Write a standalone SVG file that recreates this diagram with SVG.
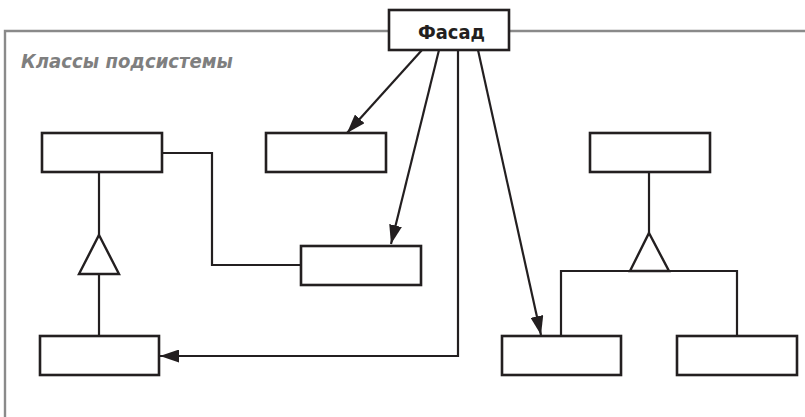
<svg xmlns="http://www.w3.org/2000/svg" width="805" height="417" viewBox="0 0 805 417">
<style>
.box{fill:#fff;stroke:#231f20;stroke-width:2.6}
.ln{fill:none;stroke:#231f20;stroke-width:2.2}
.tri{fill:#fff;stroke:#231f20;stroke-width:2.4;stroke-linejoin:miter}
.frame{fill:none;stroke:#8a8a8a;stroke-width:2.4}
.lbl{font-family:"DejaVu Sans","Liberation Sans",sans-serif;font-weight:bold;font-style:italic;font-size:19px;fill:#7f7f7f}
.name{font-family:"DejaVu Sans","Liberation Sans",sans-serif;font-weight:bold;font-size:19px;fill:#231f20}
</style>
<defs>
<marker id="arr" viewBox="0 0 19 13" refX="19" refY="6.5" markerWidth="19" markerHeight="13" markerUnits="userSpaceOnUse" orient="auto">
<path d="M0,0 L19,6.5 L0,13 Z" fill="#231f20"/>
</marker>
</defs>
<g id="frame">
<path class="frame" d="M389,31 H5 V417"/>
<path class="frame" d="M509,31 H805"/>
<text class="lbl" x="21" y="68" textLength="212" lengthAdjust="spacingAndGlyphs">Классы подсистемы</text>
</g>
<g id="connectors">
<path class="ln" d="M162,153 H212 V265 H301"/>
<path class="ln" d="M99,172 V235"/>
<polygon class="tri" points="99,235 119,274 79,274"/>
<path class="ln" d="M99,274 V336"/>
<path class="ln" d="M649,172 V233"/>
<polygon class="tri" points="649,233 669,271 630,271"/>
<path class="ln" d="M561,336 V271 H737 V336"/>
<path class="ln" d="M422,50 L347,133" marker-end="url(#arr)"/>
<path class="ln" d="M439,50 L391,244" marker-end="url(#arr)"/>
<path class="ln" d="M458,50 V356 H160" marker-end="url(#arr)"/>
<path class="ln" d="M478,50 L541,335" marker-end="url(#arr)"/>
</g>
<g id="facade">
<rect class="box" x="389" y="10" width="120" height="40"/>
<text class="name" x="418" y="39" textLength="67" lengthAdjust="spacingAndGlyphs">Фасад</text>
</g>
<g id="classA"><rect class="box" x="42" y="133" width="120" height="39"/></g>
<g id="classB"><rect class="box" x="266" y="133" width="120" height="39"/></g>
<g id="classTR"><rect class="box" x="590" y="133" width="120" height="39"/></g>
<g id="classC"><rect class="box" x="301" y="246" width="120" height="39"/></g>
<g id="classD"><rect class="box" x="40" y="336" width="119" height="39"/></g>
<g id="classE"><rect class="box" x="502" y="336" width="119" height="39"/></g>
<g id="classF"><rect class="box" x="677" y="336" width="120" height="39"/></g>
</svg>
